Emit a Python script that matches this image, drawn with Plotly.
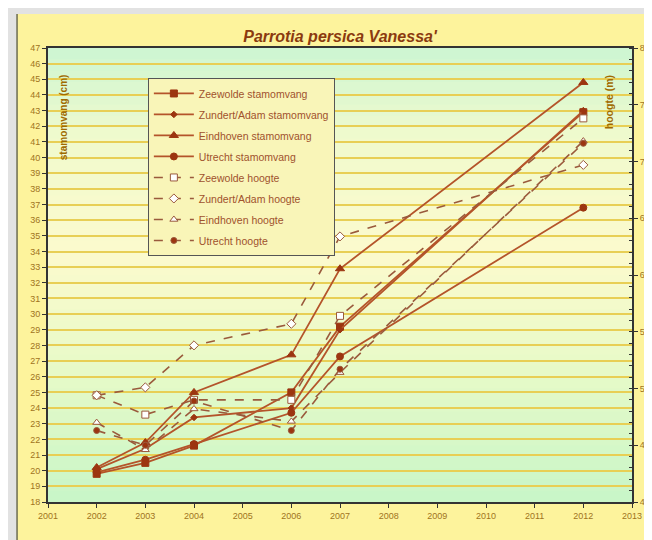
import plotly.graph_objects as go

years = [2002, 2003, 2004, 2006, 2007, 2012]

# stamomvang (cm) - left axis
zeewolde_stam = [19.8, 20.5, 21.6, 25.0, 29.2, 42.9]
zundert_stam = [20.1, 21.4, 23.4, 24.0, 29.0, 43.0]
eindhoven_stam = [20.2, 21.8, 25.0, 27.4, 32.9, 44.8]
utrecht_stam = [19.9, 20.7, 21.7, 23.7, 27.3, 36.8]

# hoogte (m) - right axis
zeewolde_hoogte = [4.94, 4.77, 4.90, 4.90, 5.64, 7.38]
zundert_hoogte = [4.94, 5.01, 5.38, 5.57, 6.34, 6.97]
eindhoven_hoogte = [4.70, 4.46, 4.82, 4.71, 5.14, 7.18]
utrecht_hoogte = [4.63, 4.50, 4.89, 4.63, 5.17, 7.16]

left_ticks = list(range(18, 48))
right_ticks = [4, 4.5, 5, 5.5, 6, 6.5, 7, 7.5, 8]
x_ticks = list(range(2001, 2014))

LINE = "#b4542a"
MARK = "#9c3510"
DASH = "#9a5a3c"
TXT = "#a0741c"

fig = go.Figure()

solid = [
    ("Zeewolde stamomvang", zeewolde_stam, "square", 7),
    ("Zundert/Adam stamomvang", zundert_stam, "diamond", 5),
    ("Eindhoven stamomvang", eindhoven_stam, "triangle-up", 8),
    ("Utrecht stamomvang", utrecht_stam, "circle", 7),
]
for i, (name, vals, sym, sz) in enumerate(solid):
    fig.add_trace(go.Scatter(
        x=years, y=vals, name=name, mode="lines+markers", yaxis="y",
        line=dict(color=LINE, width=1.8),
        marker=dict(symbol=sym, size=sz, color=MARK, line=dict(color=MARK, width=1)),
        legendgroup=f"g{i}"))

dashed = [
    ("Zeewolde hoogte", zeewolde_hoogte, "square", 7, "white"),
    ("Zundert/Adam hoogte", zundert_hoogte, "diamond", 7, "white"),
    ("Eindhoven hoogte", eindhoven_hoogte, "triangle-up", 7, "white"),
    ("Utrecht hoogte", utrecht_hoogte, "circle", 6, MARK),
]
for i, (name, vals, sym, sz, fill) in enumerate(dashed):
    fig.add_trace(go.Scatter(
        x=years, y=vals, name=name, mode="lines+markers", yaxis="y2",
        line=dict(color=DASH, width=1.6, dash="dash"),
        marker=dict(symbol=sym, size=sz, color=fill, line=dict(color=DASH, width=1)),
        legendgroup=f"h{i}"))

# gradient background of plot area (styling bands)
stops = [(0.0, (200, 246, 200)), (0.3, (232, 250, 200)), (0.55, (252, 250, 205)),
         (0.8, (240, 250, 205)), (1.0, (205, 246, 210))]
def col(t):
    for (a, ca), (b, cb) in zip(stops[:-1], stops[1:]):
        if a <= t <= b:
            f = (t - a) / (b - a)
            c = [round(ca[k] + (cb[k] - ca[k]) * f) for k in range(3)]
            return f"rgb({c[0]},{c[1]},{c[2]})"
    return "white"

shapes = []
shapes.append(dict(type="rect", xref="paper", yref="paper", x0=-0.053, x1=1.2,
                   y0=-0.2, y1=1.075, fillcolor="#fdf39c", line=dict(width=0), layer="below"))
shapes.append(dict(type="line", xref="paper", yref="paper", x0=-0.053, x1=-0.053,
                   y0=-0.2, y1=1.075, line=dict(color="#6b6b50", width=1.5), layer="below"))
n = 40
for k in range(n):
    t0, t1 = k / n, (k + 1) / n
    shapes.append(dict(type="rect", xref="paper", yref="paper", x0=0, x1=1, y0=t0, y1=t1 + 0.002,
                       fillcolor=col((t0 + t1) / 2), line=dict(width=0), layer="below"))

fig.update_layout(
    width=644, height=532,
    margin=dict(l=40, r=20, t=40, b=38, autoexpand=False),
    paper_bgcolor="#e2e2e2",
    plot_bgcolor="rgba(0,0,0,0)",
    font=dict(family="Liberation Sans, Arial", size=9, color=TXT),
    title=dict(text="<b><i>Parrotia persica Vanessa'</i></b>", x=0.5155, xanchor="center",
               y=0.947, yanchor="middle",
               font=dict(family="Liberation Sans, Arial", size=16, color="#8b3a0f")),
    shapes=shapes,
    showlegend=True,
    legend=dict(x=0.171, y=0.934, xanchor="left", yanchor="top",
                bgcolor="#f9f5b8", bordercolor="#555", borderwidth=1,
                font=dict(size=10.5, color="#a0522d"), tracegroupgap=2,
                itemwidth=40),
    xaxis=dict(range=[2001, 2013], tickmode="array", tickvals=x_ticks,
               ticks="outside", ticklen=4, tickcolor="#333", showgrid=False,
               showline=True, linecolor="#333", linewidth=2, mirror=True, zeroline=False,
               automargin=False, tickfont=dict(size=9, color=TXT)),
    yaxis=dict(range=[18, 47], tickmode="array", tickvals=left_ticks,
               ticks="outside", ticklen=4, tickcolor="#333",
               showgrid=True, gridcolor="#e8cf55", gridwidth=2,
               showline=True, linecolor="#333", linewidth=2, zeroline=False,
               automargin=False, tickfont=dict(size=9, color=TXT)),
    yaxis2=dict(range=[4, 8], tickmode="array", tickvals=right_ticks, overlaying="y",
                side="right", ticks="outside", ticklen=4, tickcolor="#333",
                minor=dict(dtick=0.1, ticks="inside", ticklen=3, tickcolor="#333"),
                showgrid=False, showline=True, linecolor="#333", linewidth=2, zeroline=False,
                automargin=False, tickfont=dict(size=9, color=TXT)),
    annotations=[
        dict(text="<b>stamomvang (cm)</b>", xref="paper", yref="paper", x=0.026, y=0.848,
             xanchor="center", yanchor="middle",
             textangle=-90, showarrow=False, font=dict(size=10, color="#a06a00")),
        dict(text="<b>hoogte (m)</b>", xref="paper", yref="paper", x=0.961, y=0.881,
             xanchor="center", yanchor="middle",
             textangle=-90, showarrow=False, font=dict(size=10.5, color="#a06a00")),
    ],
)

fig.write_html("out.html")
